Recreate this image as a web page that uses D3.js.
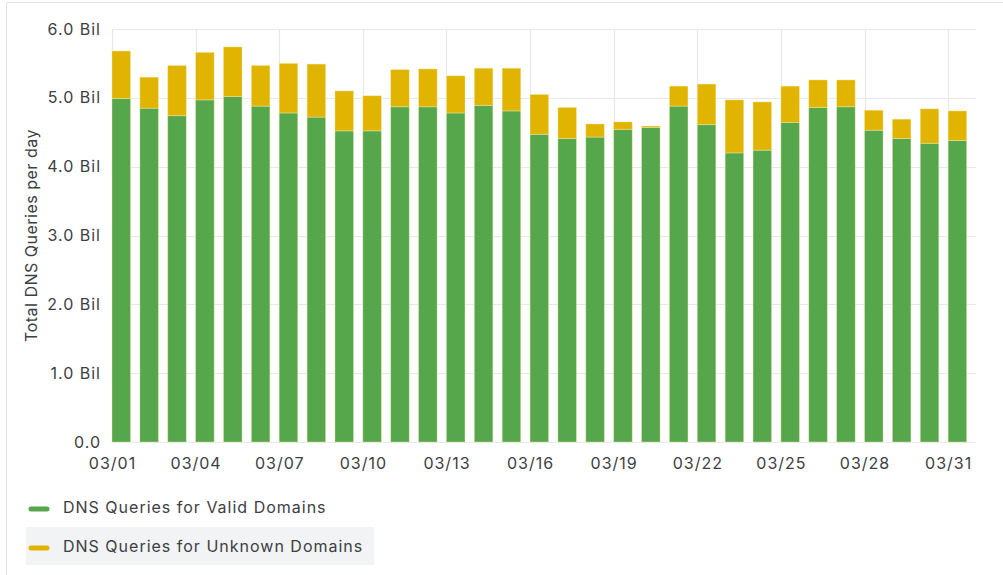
<!DOCTYPE html>
<html>
<head>
<meta charset="utf-8">
<script src="https://cdn.jsdelivr.net/npm/d3@7"></script>
<style>
    body { margin: 0; background: #fff; font-family: Inter, Roboto, sans-serif; }
    text { fill: #3c4043; letter-spacing: 1px; }
</style>
</head>
<body>
<div id="chart"></div>
<script>
// day of month (March)
const days = d3.range(1, 32);
// billions of queries per day
const validDomains = [4.99, 4.85, 4.74, 4.97, 5.02, 4.88, 4.78, 4.72, 4.52, 4.52, 4.87, 4.87, 4.78, 4.89, 4.81,
    4.47, 4.41, 4.43, 4.54, 4.57, 4.88, 4.61, 4.20, 4.24, 4.64, 4.86, 4.87, 4.53, 4.41, 4.34, 4.38];
const unknownDomains = [0.69, 0.45, 0.73, 0.69, 0.72, 0.59, 0.72, 0.77, 0.58, 0.51, 0.54, 0.55, 0.54, 0.54, 0.62,
    0.58, 0.45, 0.19, 0.11, 0.02, 0.29, 0.59, 0.77, 0.70, 0.53, 0.40, 0.39, 0.29, 0.28, 0.50, 0.43];
const yTicks = [0, 1, 2, 3, 4, 5, 6];
const seriesLabels = ["DNS Queries for Valid Domains", "DNS Queries for Unknown Domains"];
const colors = ["#56a64b", "#e0b400"];

const W = 1003, H = 575;
const plotLeft = 112, plotRight = 976, plotTop = 29, plotBottom = 442;
const fontSize = "16px";

const rows = days.map((d, i) => ({
    date: new Date(2020, 2, d),
    valid: validDomains[i],
    unknown: unknownDomains[i]
}));

const svg = d3.select("#chart").append("svg")
    .attr("width", W)
    .attr("height", H);

// card border
svg.append("line").attr("x1", 6).attr("x2", W).attr("y1", 2.5).attr("y2", 2.5)
    .attr("stroke", "#e3e3e3");
svg.append("line").attr("x1", 6.5).attr("x2", 6.5).attr("y1", 2).attr("y2", H)
    .attr("stroke", "#e3e3e3");

const x = d3.scaleTime()
    .domain([new Date(2020, 2, 1), new Date(2020, 3, 1)])
    .range([plotLeft, plotRight]);

const y = d3.scaleLinear()
    .domain([0, 6])
    .range([plotBottom, plotTop]);

const dayW = x(new Date(2020, 2, 2)) - x(new Date(2020, 2, 1));
const barW = dayW * 0.665;
const xTicks = rows.filter((r, i) => i % 3 === 0).map(r => r.date);

// grid
svg.append("g")
    .selectAll("line")
    .data(yTicks)
    .enter()
    .append("line")
    .attr("x1", plotLeft)
    .attr("x2", plotRight)
    .attr("y1", d => Math.round(y(d)) + 0.5)
    .attr("y2", d => Math.round(y(d)) + 0.5)
    .attr("stroke", "#e8e8e8")
    .attr("stroke-width", 1.2);

svg.append("g")
    .selectAll("line")
    .data(xTicks)
    .enter()
    .append("line")
    .attr("x1", d => Math.round(x(d)) + 0.5)
    .attr("x2", d => Math.round(x(d)) + 0.5)
    .attr("y1", plotTop)
    .attr("y2", plotBottom)
    .attr("stroke", "#e8e8e8")
    .attr("stroke-width", 1.2);

// stacked bars
const stack = d3.stack().keys(["valid", "unknown"]);
const layers = stack(rows);

svg.append("g")
    .selectAll("g")
    .data(layers)
    .enter()
    .append("g")
    .attr("fill", (d, i) => colors[i])
    .selectAll("rect")
    .data(d => d)
    .enter()
    .append("rect")
    .attr("x", d => x(d.data.date))
    .attr("y", d => y(d[1]))
    .attr("width", barW)
    .attr("height", d => y(d[0]) - y(d[1]))
    .attr("stroke", "#f3eeb0")
    .attr("stroke-opacity", 0.5)
    .attr("stroke-width", 0.8);

// y axis labels
const yAxis = svg.append("g")
    .attr("transform", `translate(${plotLeft}, 0)`)
    .call(d3.axisLeft(y)
        .tickValues(yTicks)
        .tickSize(0)
        .tickPadding(11)
        .tickFormat(d => d === 0 ? "0.0" : d3.format(".1f")(d) + " Bil"));
yAxis.select(".domain").remove();
yAxis.selectAll("text")
    .style("font-family", "Inter, sans-serif")
    .style("font-size", fontSize)
    .attr("fill", "#3c4043");

// x axis labels
const xAxis = svg.append("g")
    .attr("transform", `translate(0, ${plotBottom})`)
    .call(d3.axisBottom(x)
        .tickValues(xTicks)
        .tickSize(0)
        .tickPadding(16)
        .tickFormat(d3.timeFormat("%m/%d")));
xAxis.select(".domain").remove();
xAxis.selectAll("text")
    .style("font-family", "Inter, sans-serif")
    .style("font-size", fontSize)
    .attr("fill", "#3c4043");

// y title
svg.append("text")
    .attr("transform", `translate(37, ${(plotTop + plotBottom) / 2}) rotate(-90)`)
    .attr("text-anchor", "middle")
    .style("font-size", fontSize)
    .style("letter-spacing", "0.5px")
    .text("Total DNS Queries per day");

// legend
const legend = svg.append("g");

legend.append("rect")
    .attr("x", 26)
    .attr("y", 527)
    .attr("width", 348)
    .attr("height", 38)
    .attr("fill", "#f1f3f4");

const items = legend.selectAll("g.item")
    .data(seriesLabels)
    .enter()
    .append("g")
    .attr("class", "item")
    .attr("transform", (d, i) => `translate(0, ${507 + i * 39})`);

items.append("line")
    .attr("x1", 31)
    .attr("x2", 47)
    .attr("y1", 2)
    .attr("y2", 2)
    .attr("stroke", (d, i) => colors[i])
    .attr("stroke-width", 5)
    .attr("stroke-linecap", "round");

items.append("text")
    .attr("x", 63)
    .attr("y", 0)
    .attr("dy", "0.35em")
    .style("font-size", fontSize)
    .text(d => d);
</script>
</body>
</html>
